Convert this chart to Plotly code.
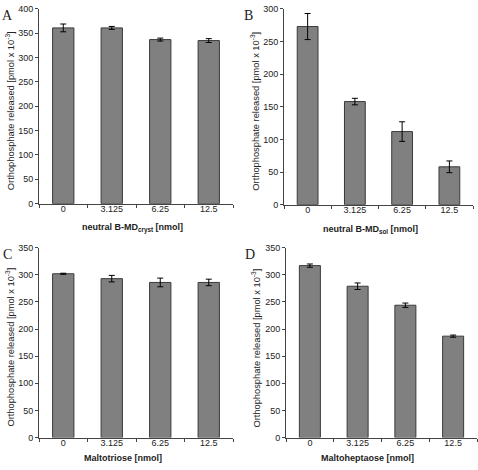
import plotly.graph_objects as go

categories = ["0", "3.125", "6.25", "12.5"]

a_values = [361, 361, 337, 335]
a_errors = [8, 3, 3, 4]
b_values = [273, 158, 112, 58]
b_errors = [20, 5, 15, 9]
c_values = [302, 293, 286, 286]
c_errors = [1, 6, 8, 6]
d_values = [317, 279, 244, 187]
d_errors = [3, 6, 4, 2]

panel_letters = ["A", "B", "C", "D"]
x_titles = ["neutral B-MD<sub>cryst</sub> [nmol]", "neutral B-MD<sub>sol</sub> [nmol]",
            "Maltotriose [nmol]", "Maltoheptaose [nmol]"]
y_title = "Orthophosphate released [pmol x 10<sup>-3</sup>]"
y_max = [400, 300, 350, 350]

W, H = 478, 470
# pixel geometry of each panel: (left, right, top, bottom)
boxes = [(39, 233, 4, 203), (284, 473, 4, 204), (39, 233, 248, 442), (286, 477, 248, 442)]
letter_x = [0, 242, 1, 243]
ytitle_x = [10, 255, 10, 256]
xtitle_dy = [25, 25, 21, 21]
xtitle_cx = [132, 370, 123, 367]

fig = go.Figure()
series = [(a_values, a_errors), (b_values, b_errors), (c_values, c_errors), (d_values, d_errors)]
FONT = "Liberation Sans, Arial, sans-serif"

layout = dict(width=W, height=H, margin=dict(l=0, r=0, t=0, b=0),
              paper_bgcolor="white", plot_bgcolor="white", showlegend=False,
              bargap=0.56, annotations=[])

for i, ((vals, errs), (l, r, t, b)) in enumerate(zip(series, boxes)):
    n = "" if i == 0 else str(i + 1)
    fig.add_trace(go.Bar(
        x=categories, y=vals, xaxis="x" + n, yaxis="y" + n,
        marker=dict(color="#808080", line=dict(color="#3a3a3a", width=1)),
        error_y=dict(type="data", array=errs, visible=True, color="black", thickness=1, width=3),
        hoverinfo="skip",
    ))
    layout["xaxis" + n] = dict(
        domain=[l / W, r / W], anchor="y" + n, type="category",
        tickson="boundaries", ticks="outside", ticklen=3, tickcolor="#444",
        ticklabelstandoff=-3,
        showline=True, linecolor="#444", linewidth=1, showgrid=False,
        tickfont=dict(family=FONT, size=9, color="#222"), fixedrange=True,
    )
    layout["yaxis" + n] = dict(
        domain=[1 - b / H, 1 - t / H], anchor="x" + n, range=[0, y_max[i]], dtick=50,
        ticks="outside", ticklen=3, tickcolor="#444", showline=True, linecolor="#444",
        linewidth=1, showgrid=False, zeroline=False,
        tickfont=dict(family=FONT, size=9, color="#222"), fixedrange=True,
    )
    # y title
    layout["annotations"].append(dict(
        text=y_title, xref="paper", yref="paper", x=ytitle_x[i] / W, y=1 - ((t + b) / 2 + 5) / H,
        xanchor="center", yanchor="middle", textangle=-90, showarrow=False,
        font=dict(family=FONT, size=9.3, color="#222")))
    # x title
    layout["annotations"].append(dict(
        text="<b>" + x_titles[i] + "</b>", xref="paper", yref="paper",
        x=xtitle_cx[i] / W, y=1 - (b + xtitle_dy[i]) / H, xanchor="center", yanchor="middle",
        showarrow=False, font=dict(family=FONT, size=9, color="#222")))
    # panel letter
    layout["annotations"].append(dict(
        text=panel_letters[i], xref="paper", yref="paper",
        x=letter_x[i] / W, y=1 - (t + 7) / H, xanchor="left", yanchor="middle",
        showarrow=False, font=dict(family="Liberation Serif, Times New Roman, serif", size=14, color="#222")))

fig.update_layout(**layout)
fig.write_html("out.html", config={"displayModeBar": False},
               post_script="document.body.style.margin='0';document.body.style.overflow='hidden';")
